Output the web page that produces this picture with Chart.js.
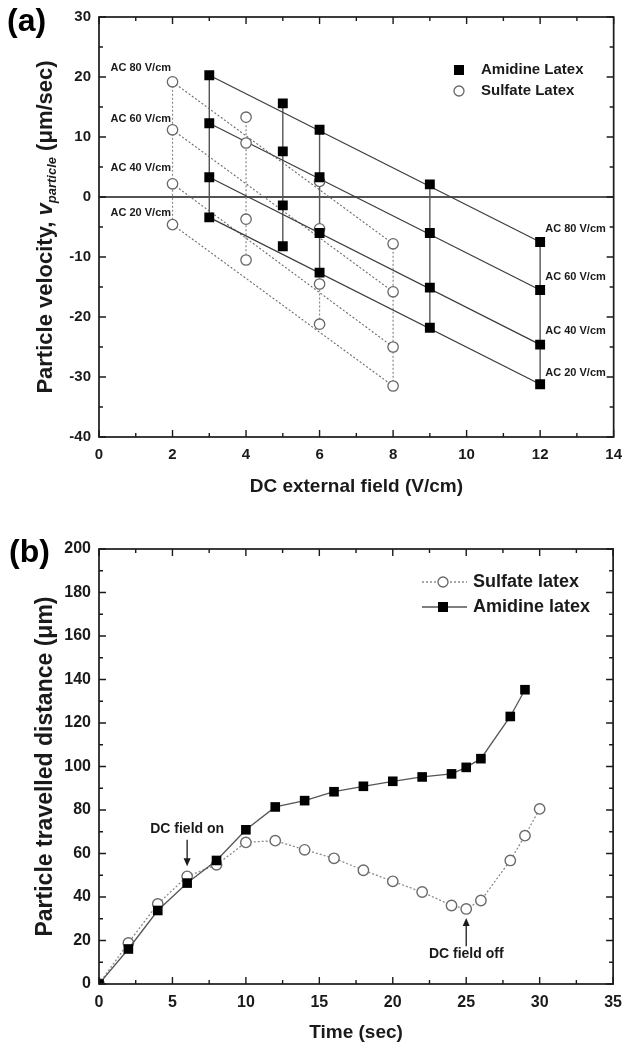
<!DOCTYPE html>
<html><head><meta charset="utf-8">
<script src="https://cdn.jsdelivr.net/npm/chart.js@4.4.1/dist/chart.umd.min.js"></script>
<style>
html,body{margin:0;padding:0;background:#fff;}
#wrap{position:relative;width:631px;height:1049px;overflow:hidden;}
canvas{position:absolute;left:0;}
#ca{top:0;} #cb{top:520px;}
</style></head><body>
<div id="wrap"><canvas id="ca" width="631" height="520"></canvas><canvas id="cb" width="631" height="529"></canvas></div>
<script>
// ---------- Data (a) ----------
const acLevels = ['AC 80 V/cm', 'AC 60 V/cm', 'AC 40 V/cm', 'AC 20 V/cm'];
const amidineX = [3, 5, 6, 9, 12];
const amidineAC80 = [20.3, 15.6, 11.2, 2.1, -7.5];
const amidineAC60 = [12.3, 7.6, 3.3, -6.0, -15.5];
const amidineAC40 = [3.3, -1.4, -6.0, -15.1, -24.6];
const amidineAC20 = [-3.4, -8.2, -12.6, -21.8, -31.2];
const sulfateX = [2, 4, 6, 8];
const sulfateAC80 = [19.2, 13.3, 2.6, -7.8];
const sulfateAC60 = [11.2, 9.0, -5.3, -15.8];
const sulfateAC40 = [2.2, -3.7, -14.5, -25.0];
const sulfateAC20 = [-4.6, -10.5, -21.2, -31.5];
const acLabelLeftX = 1.96;
const acLabelLeftY = [21.5, 13.0, 4.9, -2.6];
const acLabelRightX = 12.14;
const acLabelRightY = [-5.3, -13.4, -22.3, -29.3];
const xRangeA = [0, 14];
const yRangeA = [-40, 30];

// ---------- Data (b) ----------
const timeSulfate = [0, 2, 4, 6, 8, 10, 12, 14, 16, 18, 20, 22, 24, 25, 26, 28, 29, 30];
const distSulfate = [0, 18.9, 36.8, 49.5, 54.8, 65.1, 65.9, 61.7, 57.8, 52.3, 47.2, 42.3, 36.1, 34.5, 38.4, 56.8, 68.2, 80.5];
const timeAmidine = [0, 2, 4, 6, 8, 10, 12, 14, 16, 18, 20, 22, 24, 25, 26, 28, 29];
const distAmidine = [0, 16.1, 33.8, 46.4, 56.8, 70.9, 81.4, 84.3, 88.4, 90.9, 93.2, 95.2, 96.6, 99.6, 103.6, 123.0, 135.3];
const annotTexts = ['DC field on', 'DC field off'];
const annotX = [6, 25];
const annotTextY = [71.4, 13.5];
const annotArrowFrom = [66.3, 17.3];
const annotArrowTo = [54.1, 30.3];
const xRangeB = [0, 35];
const yRangeB = [0, 200];

const FF = '"Liberation Sans", Arial, Helvetica, sans-serif';
const INK = '#1a1a1a';

// ---------- plugins ----------
const frameTicks = {
  id: 'frameTicks',
  beforeDatasetsDraw(chart, args, o) {
    if (!o.zero) return;
    const {ctx, chartArea: a, scales: {y}} = chart;
    const py = y.getPixelForValue(0);
    ctx.save(); ctx.strokeStyle = INK; ctx.lineWidth = 1.6;
    ctx.beginPath(); ctx.moveTo(a.left, py); ctx.lineTo(a.right, py); ctx.stroke(); ctx.restore();
  },
  afterDatasetsDraw(chart, args, o) {
    const {ctx, chartArea: a, scales: {x, y}} = chart;
    ctx.save(); ctx.strokeStyle = INK; ctx.lineWidth = 1.4; ctx.beginPath();
    const isMaj = (v, m) => Math.abs(v / m - Math.round(v / m)) < 1e-6;
    for (let v = x.min; v <= x.max + 1e-9; v += o.xMinor) {
      const L = isMaj(v, o.xMajor) ? 7 : 4, px = x.getPixelForValue(v);
      ctx.moveTo(px, a.bottom); ctx.lineTo(px, a.bottom - L);
      ctx.moveTo(px, a.top); ctx.lineTo(px, a.top + L);
    }
    for (let v = y.min; v <= y.max + 1e-9; v += o.yMinor) {
      const L = isMaj(v, o.yMajor) ? 7 : 4, py = y.getPixelForValue(v);
      ctx.moveTo(a.left, py); ctx.lineTo(a.left + L, py);
      ctx.moveTo(a.right, py); ctx.lineTo(a.right - L, py);
    }
    ctx.stroke();
    ctx.lineWidth = 1.7;
    ctx.strokeRect(a.left, a.top, a.right - a.left, a.bottom - a.top);
    ctx.restore();
  }
};

function drawMarker(ctx, style, x, y) {
  ctx.save();
  if (style === 'rect') {
    ctx.fillStyle = '#000'; ctx.fillRect(x - 5, y - 5, 10, 10);
  } else {
    ctx.fillStyle = '#fff'; ctx.strokeStyle = '#666'; ctx.lineWidth = 1.3;
    ctx.beginPath(); ctx.arc(x, y, 5, 0, Math.PI * 2); ctx.fill(); ctx.stroke();
  }
  ctx.restore();
}

const customLegend = {
  id: 'customLegend',
  afterDraw(chart, args, o) {
    const {ctx} = chart;
    ctx.save();
    ctx.font = o.font; ctx.fillStyle = INK; ctx.textBaseline = 'middle'; ctx.textAlign = 'left';
    o.items.forEach((it, i) => {
      const y = o.y0 + i * o.dy;
      if (it.line) {
        ctx.save(); ctx.strokeStyle = it.line.color; ctx.lineWidth = 1.3; ctx.setLineDash(it.line.dash || []);
        ctx.beginPath(); ctx.moveTo(o.lineX0, y); ctx.lineTo(o.lineX1, y); ctx.stroke(); ctx.restore();
      }
      drawMarker(ctx, it.style, o.markerX, y);
      ctx.fillText(it.text, o.textX, y);
    });
    ctx.restore();
  }
};

const panelLabel = {
  id: 'panelLabel',
  afterDraw(chart, args, o) {
    const {ctx} = chart;
    ctx.save(); ctx.font = 'bold 32px ' + FF; ctx.fillStyle = '#000';
    ctx.textAlign = 'left'; ctx.textBaseline = 'middle';
    ctx.fillText(o.text, o.x, o.y); ctx.restore();
  }
};

const acLabels = {
  id: 'acLabels',
  afterDatasetsDraw(chart) {
    const {ctx, scales: {x, y}} = chart;
    ctx.save(); ctx.font = 'bold 11px ' + FF; ctx.fillStyle = INK; ctx.textBaseline = 'middle';
    acLevels.forEach((t, i) => {
      ctx.textAlign = 'right';
      ctx.fillText(t, x.getPixelForValue(acLabelLeftX), y.getPixelForValue(acLabelLeftY[i]));
      ctx.textAlign = 'left';
      ctx.fillText(t, x.getPixelForValue(acLabelRightX), y.getPixelForValue(acLabelRightY[i]));
    });
    ctx.restore();
  }
};

const yTitleA = {
  id: 'yTitleA',
  afterDraw(chart) {
    const {ctx, chartArea: a} = chart;
    const parts = [
      {t: 'Particle velocity, ', f: 'bold 22px ' + FF, dy: 0},
      {t: 'v', f: 'italic bold 22px ' + FF, dy: 0},
      {t: 'particle', f: 'italic bold 13px ' + FF, dy: 6},
      {t: ' (\u03bcm/sec)', f: 'bold 22px ' + FF, dy: 0}
    ];
    ctx.save();
    let total = 0;
    parts.forEach(p => { ctx.font = p.f; p.w = ctx.measureText(p.t).width; total += p.w; });
    ctx.translate(46, (a.top + a.bottom) / 2);
    ctx.rotate(-Math.PI / 2);
    ctx.fillStyle = INK; ctx.textBaseline = 'middle'; ctx.textAlign = 'left';
    let cx = -total / 2;
    parts.forEach(p => { ctx.font = p.f; ctx.fillText(p.t, cx, p.dy); cx += p.w; });
    ctx.restore();
  }
};

const annotations = {
  id: 'annotations',
  afterDatasetsDraw(chart) {
    const {ctx, scales: {x, y}} = chart;
    ctx.save(); ctx.font = 'bold 14px ' + FF; ctx.fillStyle = INK; ctx.strokeStyle = INK;
    ctx.textAlign = 'center'; ctx.textBaseline = 'middle'; ctx.lineWidth = 1.3;
    annotTexts.forEach((t, i) => {
      const px = x.getPixelForValue(annotX[i]);
      ctx.fillText(t, px, y.getPixelForValue(annotTextY[i]));
      const y0 = y.getPixelForValue(annotArrowFrom[i]), y1 = y.getPixelForValue(annotArrowTo[i]);
      const dir = Math.sign(y1 - y0);
      ctx.beginPath(); ctx.moveTo(px, y0); ctx.lineTo(px, y1 - dir * 6); ctx.stroke();
      ctx.beginPath(); ctx.moveTo(px, y1); ctx.lineTo(px - 3.5, y1 - dir * 8); ctx.lineTo(px + 3.5, y1 - dir * 8); ctx.closePath(); ctx.fill();
    });
    ctx.restore();
  }
};

const tickFontA = {size: 15, weight: 'bold', family: FF};
const tickFontB = {size: 16, weight: 'bold', family: FF};

// ---------- Chart (a) ----------
const seriesA = [amidineAC80, amidineAC60, amidineAC40, amidineAC20];
const seriesS = [sulfateAC80, sulfateAC60, sulfateAC40, sulfateAC20];
const dsA = [];
seriesA.forEach(s => dsA.push({
  data: [{x: amidineX[0], y: s[0]}, {x: amidineX[amidineX.length - 1], y: s[s.length - 1]}],
  showLine: true, pointRadius: 0, borderColor: '#3c3c3c', borderWidth: 1.2, order: 3
}));
seriesS.forEach(s => dsA.push({
  data: [{x: sulfateX[0], y: s[0]}, {x: sulfateX[sulfateX.length - 1], y: s[s.length - 1]}],
  showLine: true, pointRadius: 0, borderColor: '#6a6a6a', borderWidth: 1.1, borderDash: [2, 2], order: 3
}));
amidineX.forEach((xv, i) => dsA.push({
  data: seriesA.map(s => ({x: xv, y: s[i]})),
  showLine: true, pointRadius: 0, borderColor: '#555', borderWidth: 1.4, order: 3
}));
sulfateX.forEach((xv, i) => dsA.push({
  data: seriesS.map(s => ({x: xv, y: s[i]})),
  showLine: true, pointRadius: 0, borderColor: '#888', borderWidth: 1.2, borderDash: [2, 2], order: 3
}));
dsA.push({
  label: 'Sulfate Latex',
  data: seriesS.flatMap(s => s.map((v, i) => ({x: sulfateX[i], y: v}))),
  showLine: false, pointStyle: 'circle', pointRadius: 5.2, borderWidth: 1.3,
  borderColor: '#666', backgroundColor: '#fff', order: 1
});
dsA.push({
  label: 'Amidine Latex',
  data: seriesA.flatMap(s => s.map((v, i) => ({x: amidineX[i], y: v}))),
  showLine: false, pointStyle: 'rect', pointRadius: 7, borderWidth: 0,
  borderColor: '#000', backgroundColor: '#000', order: 0
});

new Chart(document.getElementById('ca'), {
  type: 'scatter',
  data: {datasets: dsA},
  options: {
    responsive: false, animation: false, devicePixelRatio: 1, events: [],
    layout: {padding: {top: 17, right: 10, left: 0, bottom: 0}},
    scales: {
      x: {
        type: 'linear', min: xRangeA[0], max: xRangeA[1],
        grid: {display: false, drawTicks: false}, border: {display: false},
        ticks: {stepSize: 2, font: tickFontA, color: INK, padding: 9},
        title: {display: true, text: 'DC external field (V/cm)', color: INK,
          font: {size: 19, weight: 'bold', family: FF}, padding: {top: 0, bottom: 22}},
        afterFit(s) { s.height = 83; }
      },
      y: {
        type: 'linear', min: yRangeA[0], max: yRangeA[1],
        grid: {display: false, drawTicks: false}, border: {display: false},
        ticks: {stepSize: 10, font: tickFontA, color: INK, padding: 8},
        afterFit(s) { s.width = 99; }
      }
    },
    plugins: {
      legend: {display: false}, tooltip: {enabled: false},
      frameTicks: {xMajor: 2, xMinor: 1, yMajor: 10, yMinor: 5, zero: true},
      customLegend: {
        font: 'bold 15px ' + FF, y0: 70, dy: 21, markerX: 459, textX: 481,
        items: [{text: 'Amidine Latex', style: 'rect'}, {text: 'Sulfate Latex', style: 'circle'}]
      },
      panelLabel: {text: '(a)', x: 7, y: 22}
    }
  },
  plugins: [frameTicks, customLegend, panelLabel, acLabels, yTitleA]
});

// ---------- Chart (b) ----------
new Chart(document.getElementById('cb'), {
  type: 'scatter',
  data: {datasets: [
    {
      label: 'Sulfate latex',
      data: timeSulfate.map((t, i) => ({x: t, y: distSulfate[i]})),
      showLine: true, borderColor: '#8a8a8a', borderWidth: 1.3, borderDash: [2, 2],
      pointStyle: 'circle', pointRadius: 5.2, pointBorderWidth: 1.4,
      pointBorderColor: '#6a6a6a', pointBackgroundColor: '#fff', order: 1
    },
    {
      label: 'Amidine latex',
      data: timeAmidine.map((t, i) => ({x: t, y: distAmidine[i]})),
      showLine: true, borderColor: '#555', borderWidth: 1.3,
      pointStyle: 'rect', pointRadius: 6.8, pointBorderWidth: 0,
      pointBorderColor: '#000', pointBackgroundColor: '#000', order: 0
    }
  ]},
  options: {
    responsive: false, animation: false, devicePixelRatio: 1, events: [],
    layout: {padding: {top: 29, right: 9.5, left: 0, bottom: 0}},
    scales: {
      x: {
        type: 'linear', min: xRangeB[0], max: xRangeB[1],
        grid: {display: false, drawTicks: false}, border: {display: false},
        ticks: {stepSize: 5, font: tickFontB, color: INK, padding: 9},
        title: {display: true, text: 'Time (sec)', color: INK,
          font: {size: 19, weight: 'bold', family: FF}, padding: {top: 0, bottom: 5}},
        afterFit(s) { s.height = 65; }
      },
      y: {
        type: 'linear', min: yRangeB[0], max: yRangeB[1],
        grid: {display: false, drawTicks: false}, border: {display: false},
        ticks: {stepSize: 20, font: tickFontB, color: INK, padding: 8},
        title: {display: true, text: 'Particle travelled distance (\u03bcm)', color: INK,
          font: {size: 23, weight: 'bold', family: FF}, padding: {top: 32, bottom: 0}},
        afterFit(s) { s.width = 99; }
      }
    },
    plugins: {
      legend: {display: false}, tooltip: {enabled: false},
      frameTicks: {xMajor: 5, xMinor: 2.5, yMajor: 20, yMinor: 10, zero: false},
      customLegend: {
        font: 'bold 18px ' + FF, y0: 62, dy: 25, markerX: 443, textX: 473, lineX0: 422, lineX1: 467,
        items: [
          {text: 'Sulfate latex', style: 'circle', line: {color: '#8a8a8a', dash: [2, 2]}},
          {text: 'Amidine latex', style: 'rect', line: {color: '#555'}}
        ]
      },
      panelLabel: {text: '(b)', x: 9, y: 33}
    }
  },
  plugins: [frameTicks, customLegend, panelLabel, annotations]
});
</script>
</body></html>
